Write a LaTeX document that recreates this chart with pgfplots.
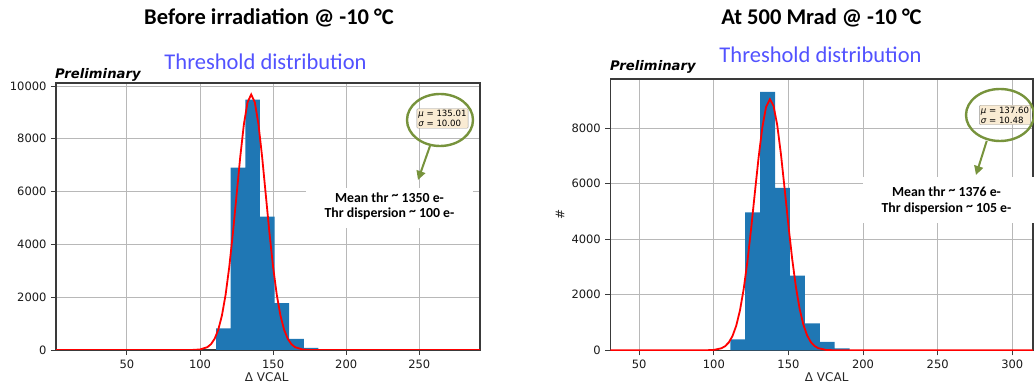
\documentclass[border=0pt]{standalone}
\usepackage{pgfplots}
\pgfplotsset{compat=1.18}
\usepackage{fontspec}
\setmainfont{Carlito}
\newfontfamily\dejavu{DejaVu Sans}
\usetikzlibrary{arrows.meta}
\definecolor{barblue}{HTML}{1F77B4}
\definecolor{thblue}{HTML}{5252FF}
\definecolor{anngreen}{HTML}{77933C}
\definecolor{boxfill}{HTML}{F9EBD3}
\definecolor{gridgray}{HTML}{B8B8B8}
\definecolor{spine}{HTML}{3A3A3A}
\newcommand{\tld}{\raisebox{0.35ex}{\textasciitilde}}
\pgfplotsset{
  histstyle/.style={
    scale only axis, anchor=south west,
    ymin=0,
    grid=major,
    major grid style={gridgray, line width=0.9pt},
    axis line style={spine, line width=1.1pt},
    tick align=outside, tick pos=left,
    major tick length=5pt,
    every tick/.style={spine, line width=0.9pt},
    tick label style={font=\dejavu\fontsize{11.5}{12}\selectfont, text=black!90},
    /pgf/number format/assume math mode=true,
    /pgf/number format/set thousands separator={},
    scaled y ticks=false,
    xticklabel style={yshift=-1pt},
    yticklabel style={xshift=-1pt},
  }
}
\begin{document}
\begin{tikzpicture}[x=1pt,y=1pt]
\useasboundingbox (0,0) rectangle (1034,387);
% ---------------- left panel ----------------
\begin{axis}[histstyle,
  at={(56pt,37pt)}, width=424pt, height=267pt,
  xmin=1.5, xmax=291.5, ymax=10114,
  xtick={50,100,150,200,250},
  ytick={0,2000,4000,6000,8000,10000}]
\addplot[const plot, fill=barblue, draw=none] coordinates {
 (111,820) (121,6907) (131,9482) (141,5050) (151,1780) (161,417) (171,76) (181,76)} \closedcycle;
\addplot[red, line width=1.8pt] coordinates {
 (1.5,0) (90,0) (95,3) (100,21) (105,107) (107.5,221) (110,425) (112.5,770) (115,1310)
 (117.5,2094) (120,3143) (122.5,4431) (125,5871) (127.5,7306) (130,8543) (132.5,9382)
 (135,9680) (137.5,9382) (140,8543) (142.5,7306) (145,5871) (147.5,4431) (150,3143)
 (152.5,2094) (155,1310) (157.5,770) (160,425) (162.5,221) (165,107) (170,21) (175,3)
 (180,0) (291.5,0)};
\end{axis}
% ---------------- right panel ----------------
\begin{axis}[histstyle,
  at={(610.3pt,36.7pt)}, width=422.7pt, height=271.3pt,
  xmin=30.6, xmax=313.9, ymax=9776,
  xtick={50,100,150,200,250,300},
  ytick={0,2000,4000,6000,8000}]
\addplot[const plot, fill=barblue, draw=none] coordinates {
 (111,396) (121,4973) (131,9309) (141,5850) (151,2691) (161,973) (171,300) (181,72) (191,72)} \closedcycle;
\addplot[red, line width=1.8pt] coordinates {
 (30.6,0) (90,0) (95,2) (100,14) (105,72) (107.5,146) (110,282) (112.5,514) (115,884)
 (117.5,1438) (120,2208) (122.5,3204) (125,4390) (127.5,5685) (130,6953) (132.5,8035)
 (135,8771) (137.6,9045) (140,8811) (142.5,8109) (145,7050) (147.5,5790) (150,4492)
 (152.5,3292) (155,2280) (157.5,1491) (160,922) (162.5,537) (165,296) (167.5,154)
 (170,76) (175,15) (180,2) (185,0) (313.9,0)};
\end{axis}
% ---------------- titles ----------------
\node[font=\bfseries\fontsize{22.5}{24}\selectfont] at (269,369) {Before irradiation @ -10 °C};
\node[font=\bfseries\fontsize{22.5}{24}\selectfont] at (821.5,369) {At 500 Mrad @ -10 °C};
\node[font=\fontsize{22.5}{24}\selectfont, text=thblue] at (265.5,325) {Threshold distribution};
\node[font=\fontsize{22.5}{24}\selectfont, text=thblue] at (820.5,332) {Threshold distribution};
\node[font=\dejavu\bfseries\itshape\fontsize{13.2}{14}\selectfont, anchor=west, inner sep=0pt] at (55,312) {Preliminary};
\node[font=\dejavu\bfseries\itshape\fontsize{13.2}{14}\selectfont, anchor=west, inner sep=0pt] at (610,320) {Preliminary};
% axis labels
\node[font=\dejavu\fontsize{12}{13}\selectfont, text=black!85] at (266.7,10.3) {Δ VCAL};
\node[font=\dejavu\fontsize{12}{13}\selectfont, text=black!85] at (826.7,10) {Δ VCAL};
\node[font=\dejavu\fontsize{12}{13}\selectfont, text=black!85, rotate=90] at (560,173) {\#};
% ---------------- annotations left ----------------
\fill[white] (306,159) rectangle (473,199);
\node[font=\bfseries\fontsize{13.8}{15}\selectfont] at (389.5,189.7) {Mean thr \tld{} 1350 e-};
\node[font=\bfseries\fontsize{13.8}{15}\selectfont] at (389.5,173) {Thr dispersion \tld{} 100 e-};
\node[draw=black!40, fill=boxfill, rounded corners=1pt, inner sep=1.5pt, align=left,
      font=\dejavu\fontsize{8.6}{10}\selectfont] at (442.5,268.5) {{\itshape μ} = 135.01\\{\itshape σ} = 10.00};
\draw[anngreen, line width=2.4pt] (440,267) ellipse [x radius=33, y radius=26];
\draw[anngreen, line width=2pt, -{Triangle[length=9pt,width=9pt]}] (430,241) -- (418,207);
% ---------------- annotations right ----------------
\fill[white] (863,164) rectangle (1034,210);
\node[font=\bfseries\fontsize{13.8}{15}\selectfont] at (946.5,195) {Mean thr \tld{} 1376 e-};
\node[font=\bfseries\fontsize{13.8}{15}\selectfont] at (946.5,178) {Thr dispersion \tld{} 105 e-};
\node[draw=black!40, fill=boxfill, rounded corners=1pt, inner sep=1.5pt, align=left,
      font=\dejavu\fontsize{8.6}{10}\selectfont] at (1005,272) {{\itshape μ} = 137.60\\{\itshape σ} = 10.48};
\draw[anngreen, line width=2.4pt] (1000,272) ellipse [x radius=34, y radius=26];
\draw[anngreen, line width=2pt, -{Triangle[length=9pt,width=9pt]}] (986.7,246) -- (976,212);
% bottom crop strip
\fill[white] (0,0) rectangle (1034,4.5);
\end{tikzpicture}
\end{document}
